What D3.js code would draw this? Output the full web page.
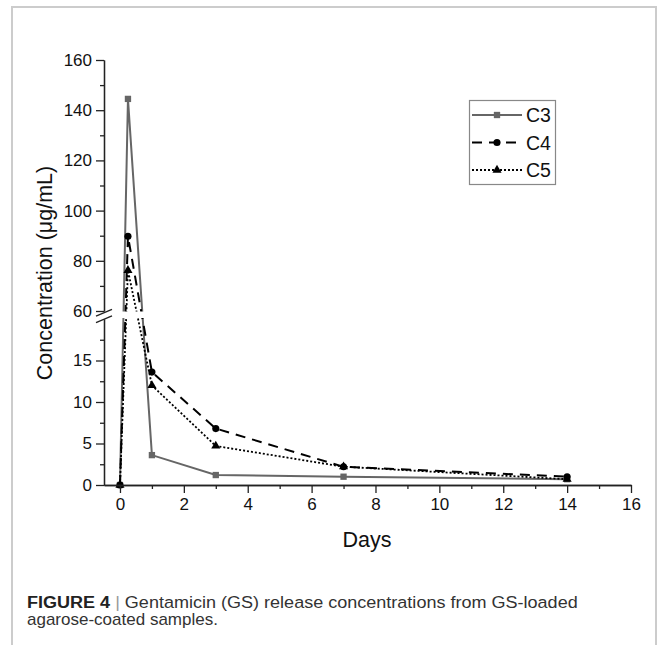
<!DOCTYPE html>
<html>
<head>
<meta charset="utf-8">
<script src="https://cdn.jsdelivr.net/npm/d3@7"></script>
<style>
  html, body { margin: 0; padding: 0; background: #fff; }
  svg { display: block; font-family: Arial, "Liberation Sans", sans-serif; }
</style>
</head>
<body>
<div id="chart"></div>
<script>
// data
const days = [0, 0.25, 1, 3, 7, 14]
const c3 = [0, 144.5, 3.6, 1.2, 1.0, 0.7]
const c4 = [0, 89.8, 13.6, 6.8, 2.2, 1.0]
const c5 = [0, 76.2, 12.0, 4.7, 2.2, 0.7]
const seriesNames = ['C3', 'C4', 'C5']
const xTicks = [0, 2, 4, 6, 8, 10, 12, 14, 16]
const xMinor = [1, 3, 5, 7, 9, 11, 13, 15]
const yLowTicks = [0, 5, 10, 15]
const yLowMinor = [2.5, 7.5, 12.5, 17.5]
const yHighTicks = [60, 80, 100, 120, 140, 160]
const yHighMinor = [70, 90, 110, 130, 150]

const W = 664, H = 645
const svg = d3.select('#chart').append('svg').attr('width', W).attr('height', H)

// page frame
svg.append('path').attr('d', `M12,${H} V7 H656 V${H}`)
  .attr('fill', 'none').attr('stroke', '#cccccc').attr('stroke-width', 2)

const x = d3.scaleLinear().domain([-0.5, 16]).range([104, 631])
const yLow = d3.scaleLinear().domain([0, 20]).range([485, 319])
const yHigh = d3.scaleLinear().domain([60, 160]).range([311, 60])
const y = v => v <= 20 ? yLow(v) : yHigh(v)

const styles = {
  C3: { values: c3, color: '#666666', width: 2, dash: null, marker: 'square' },
  C4: { values: c4, color: '#000000', width: 2, dash: '10,7', marker: 'circle' },
  C5: { values: c5, color: '#000000', width: 1.8, dash: '2,2', marker: 'triangle' },
}

const symbolFor = { square: d3.symbolSquare, circle: d3.symbolCircle, triangle: d3.symbolTriangle }
const symbolSize = { square: 40, circle: 40, triangle: 36 }

const line = d3.line().x(d => x(d[0])).y(d => y(d[1]))
const plot = svg.append('g')

seriesNames.forEach(name => {
  const s = styles[name]
  const pts = days.map((d, i) => [d, s.values[i]])
  plot.append('path').datum(pts).attr('d', line)
    .attr('fill', 'none').attr('stroke', s.color).attr('stroke-width', s.width)
    .attr('stroke-dasharray', s.dash)
  plot.selectAll(null).data(pts).join('path')
    .attr('transform', d => `translate(${x(d[0])},${y(d[1])})`)
    .attr('d', d3.symbol().type(symbolFor[s.marker]).size(symbolSize[s.marker]))
    .attr('fill', s.color)
})

// axis break gap
plot.append('rect').attr('x', 100).attr('y', 311.5).attr('width', 540).attr('height', 6.5).attr('fill', '#fff')

function styleAxis(g) {
  g.select('.domain').attr('stroke', '#222').attr('stroke-width', 1.3)
  g.selectAll('.tick line').attr('stroke', '#222').attr('stroke-width', 1.3)
  g.selectAll('.tick text').attr('fill', '#111').style('font-size', '17px')
}

const axisX = 104
svg.append('g').attr('transform', `translate(${axisX},0)`)
  .call(d3.axisLeft(yHigh).tickValues(yHighTicks).tickSize(8).tickSizeOuter(0).tickPadding(4))
  .call(styleAxis)
svg.append('g').attr('transform', `translate(${axisX},0)`)
  .call(d3.axisLeft(yHigh).tickValues(yHighMinor).tickSize(4).tickSizeOuter(0).tickFormat(''))
  .call(styleAxis)
svg.append('g').attr('transform', `translate(${axisX},0)`)
  .call(d3.axisLeft(yLow).tickValues(yLowTicks).tickSize(8).tickSizeOuter(0).tickPadding(4))
  .call(styleAxis)
svg.append('g').attr('transform', `translate(${axisX},0)`)
  .call(d3.axisLeft(yLow).tickValues(yLowMinor).tickSize(4).tickSizeOuter(0).tickFormat(''))
  .call(styleAxis)

svg.append('g').attr('transform', `translate(0,${yLow(0)})`)
  .call(d3.axisBottom(x).tickValues(xTicks).tickSize(8).tickSizeOuter(0).tickPadding(5))
  .call(styleAxis)
svg.append('g').attr('transform', `translate(0,${yLow(0)})`)
  .call(d3.axisBottom(x).tickValues(xMinor).tickSize(4).tickSizeOuter(0).tickFormat(''))
  .call(styleAxis)

// break marks
;[312.7, 319.3].forEach(cy => {
  svg.append('line').attr('x1', axisX - 8).attr('y1', cy + 3.4).attr('x2', axisX + 8).attr('y2', cy - 3.4)
    .attr('stroke', '#222').attr('stroke-width', 1.3)
})

// axis titles
svg.append('text').attr('x', 367).attr('y', 547).attr('text-anchor', 'middle')
  .style('font-size', '21.5px').attr('fill', '#111').text('Days')
svg.append('text').attr('transform', 'translate(52,273) rotate(-90)').attr('text-anchor', 'middle')
  .style('font-size', '21.5px').attr('fill', '#111').text('Concentration (μg/mL)')

// legend
const legend = svg.append('g')
legend.append('rect').attr('x', 469.5).attr('y', 100.5).attr('width', 86).attr('height', 84)
  .attr('fill', '#fff').attr('stroke', '#888').attr('stroke-width', 1.2)
const legY = d3.scalePoint().domain(seriesNames).range([115, 170])
seriesNames.forEach(name => {
  const s = styles[name]
  const ly = legY(name)
  legend.append('line').attr('x1', 472).attr('x2', 522).attr('y1', ly).attr('y2', ly)
    .attr('stroke', s.color).attr('stroke-width', s.width).attr('stroke-dasharray', s.dash)
  legend.append('path').attr('transform', `translate(497,${ly})`)
    .attr('d', d3.symbol().type(symbolFor[s.marker]).size(symbolSize[s.marker])).attr('fill', s.color)
  legend.append('text').attr('x', 526).attr('y', ly + 7).style('font-size', '19.5px').attr('fill', '#111').text(name)
})

// caption, squeezed to the condensed face of the original
function caption(yBase, targetWidth, build) {
  const t = svg.append('text').attr('fill', '#333').style('font-size', '17px')
  build(t)
  const w = t.node().getComputedTextLength()
  t.attr('transform', `translate(27,${yBase}) scale(${targetWidth / w},1)`)
}
caption(608, 551, t => {
  t.append('tspan').attr('font-weight', 'bold').attr('fill', '#222').text('FIGURE 4')
  t.append('tspan').attr('fill', '#999').text(' | ')
  t.append('tspan').text('Gentamicin (GS) release concentrations from GS-loaded')
})
caption(625, 191, t => t.text('agarose-coated samples.'))
</script>
</body>
</html>
